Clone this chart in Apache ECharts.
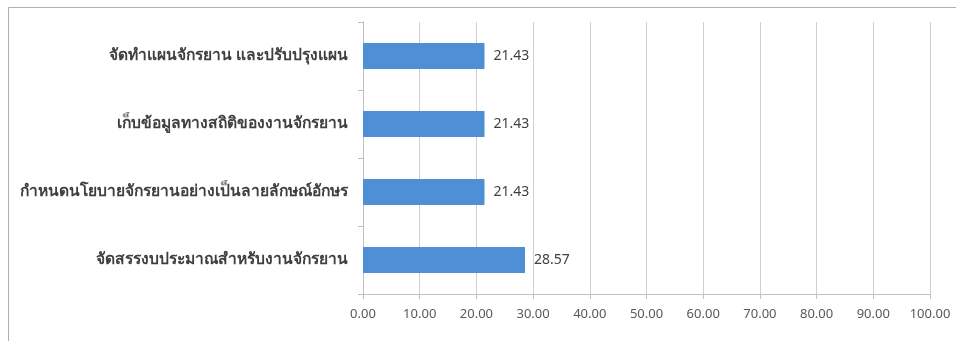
<!DOCTYPE html>
<html>
<head>
<meta charset="utf-8">
<style>
  html, body { margin: 0; padding: 0; background: #fff; }
  #chart { width: 956px; height: 341px; }
</style>
<script src="https://cdn.jsdelivr.net/npm/echarts@6/dist/echarts.min.js"></script>
</head>
<body>
<div id="chart"></div>
<script>
// Bicycle-policy activities (percent), listed top to bottom
const categories = [
  'จัดทำแผนจักรยาน และปรับปรุงแผน',
  'เก็บข้อมูลทางสถิติของงานจักรยาน',
  'กำหนดนโยบายจักรยานอย่างเป็นลายลักษณ์อักษร',
  'จัดสรรงบประมาณสำหรับงานจักรยาน'
];
const percentValues = [21.43, 21.43, 21.43, 28.57];
const xTicks = { min: 0, max: 100, interval: 10 };

const chart = echarts.init(document.getElementById('chart'), null, { renderer: 'canvas' });
const fontFamily = 'Tahoma, "Noto Sans", "DejaVu Sans", sans-serif';

chart.setOption({
  animation: false,
  backgroundColor: '#ffffff',
  graphic: [{
    type: 'rect',
    shape: { x: 8.5, y: 7.5, width: 960, height: 340 },
    style: { fill: 'none', stroke: '#b0b0b0', lineWidth: 1 },
    silent: true
  }],
  grid: { left: 363, right: 26, top: 22, bottom: 47, containLabel: false },
  xAxis: {
    type: 'value',
    min: xTicks.min,
    max: xTicks.max,
    interval: xTicks.interval,
    axisLine: { show: true, lineStyle: { color: '#bfbfbf' } },
    axisTick: { show: true, length: 5, lineStyle: { color: '#bfbfbf' } },
    splitLine: { show: true, lineStyle: { color: '#cfcfcf' } },
    axisLabel: {
      color: '#595959', fontSize: 13, fontFamily, margin: 14,
      formatter: v => v.toFixed(2)
    }
  },
  yAxis: {
    type: 'category',
    data: categories,
    inverse: true,
    axisLine: { show: true, lineStyle: { color: '#bfbfbf' } },
    axisTick: { show: true, length: 5, lineStyle: { color: '#bfbfbf' } },
    splitLine: { show: false },
    axisLabel: {
      color: '#404040', fontSize: 15.6, fontWeight: 'bold', fontFamily, margin: 15
    }
  },
  series: [{
    type: 'bar',
    data: percentValues,
    barWidth: 26,
    itemStyle: { color: '#4f8fd6' },
    label: {
      show: true,
      position: 'right',
      distance: 9,
      color: '#404040',
      fontSize: 14,
      fontFamily,
      formatter: p => p.value.toFixed(2)
    }
  }]
});
</script>
</body>
</html>
